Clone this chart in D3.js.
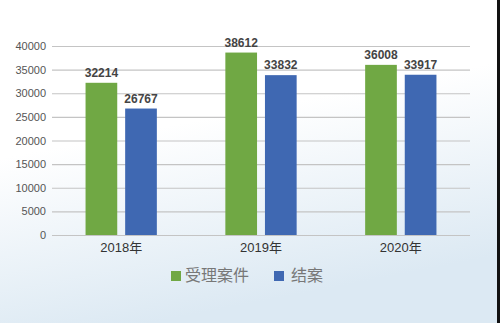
<!DOCTYPE html>
<html>
<head>
<meta charset="utf-8">
<script src="https://cdn.jsdelivr.net/npm/d3@7"></script>
<style>
  body { margin: 0; padding: 0; }
  svg { display: block; }
</style>
</head>
<body>
<div id="chart"></div>
<script>
// chart data
const years = ["2018年", "2019年", "2020年"];
const seriesNames = ["受理案件", "结案"];
const accepted = [32214, 38612, 36008];
const closed = [26767, 33832, 33917];
const yTicks = [0, 5000, 10000, 15000, 20000, 25000, 30000, 35000, 40000];

const colors = ["#70a844", "#3f68b2"];

const width = 500, height = 323;
const margin = { top: 46, right: 30, bottom: 88, left: 52 };

const svg = d3.select("#chart")
    .append("svg")
    .attr("width", width)
    .attr("height", height);

// background: white at top fading to pale blue at the bottom
const defs = svg.append("defs");
const grad = defs.append("linearGradient")
    .attr("id", "bg")
    .attr("x1", 0).attr("y1", 0).attr("x2", 0.3).attr("y2", 1);
grad.append("stop").attr("offset", "0%").attr("stop-color", "#ffffff");
grad.append("stop").attr("offset", "45%").attr("stop-color", "#ffffff");
grad.append("stop").attr("offset", "100%").attr("stop-color", "#dce9f3");

svg.append("rect")
    .attr("width", width).attr("height", height)
    .attr("fill", "url(#bg)");

// dark edge on the right
svg.append("rect")
    .attr("x", 497).attr("y", 0)
    .attr("width", 3).attr("height", height)
    .attr("fill", "#111");

const x0 = d3.scaleBand()
    .domain(years)
    .range([margin.left, width - margin.right])
    .paddingInner(0.49)
    .paddingOuter(0.24);

const x1 = d3.scaleBand()
    .domain(seriesNames)
    .range([0, x0.bandwidth()])
    .paddingInner(0.2);

const y = d3.scaleLinear()
    .domain([0, 40000])
    .range([height - margin.bottom, margin.top]);

// gridlines + y labels
const yAxis = d3.axisLeft(y)
    .tickValues(yTicks)
    .tickSize(-(width - margin.right - margin.left))
    .tickPadding(6)
    .tickFormat(d3.format("d"));

const gy = svg.append("g")
    .attr("transform", "translate(" + margin.left + ",0)")
    .call(yAxis);
gy.select(".domain").remove();
gy.selectAll(".tick line")
    .attr("stroke", "#c4c4c4")
    .attr("stroke-width", 1.2);
gy.selectAll(".tick text")
    .attr("fill", "#555")
    .style("font-family", "'Liberation Sans', Arial, sans-serif")
    .style("font-size", "11px");

// bars
const rows = years.map((yr, i) => ({
    year: yr,
    values: [
        { name: seriesNames[0], value: accepted[i], color: colors[0] },
        { name: seriesNames[1], value: closed[i], color: colors[1] }
    ]
}));

const groups = svg.selectAll(".grp")
    .data(rows)
    .enter()
    .append("g")
    .attr("class", "grp")
    .attr("transform", d => "translate(" + x0(d.year) + ",0)");

groups.selectAll("rect")
    .data(d => d.values)
    .enter()
    .append("rect")
    .attr("x", d => x1(d.name))
    .attr("y", d => y(d.value))
    .attr("width", x1.bandwidth())
    .attr("height", d => y(0) - y(d.value))
    .attr("fill", d => d.color);

groups.selectAll(".val")
    .data(d => d.values)
    .enter()
    .append("text")
    .attr("class", "val")
    .attr("x", d => x1(d.name) + x1.bandwidth() / 2)
    .attr("y", d => y(d.value) - 6)
    .attr("text-anchor", "middle")
    .attr("fill", "#444")
    .style("font-family", "'Liberation Sans', Arial, sans-serif")
    .style("font-weight", "bold")
    .style("font-size", "12px")
    .text(d => d.value);

// category labels
svg.selectAll(".cat")
    .data(years)
    .enter()
    .append("text")
    .attr("class", "cat")
    .attr("x", d => x0(d) + x0.bandwidth() / 2)
    .attr("y", y(0) + 17)
    .attr("text-anchor", "middle")
    .attr("fill", "#333")
    .style("font-family", "'Liberation Sans', 'Noto Sans CJK SC', sans-serif")
    .style("font-size", "13px")
    .text(d => d);

// legend
const legendX = [171, 274];
const legend = svg.selectAll(".leg")
    .data(seriesNames)
    .enter()
    .append("g")
    .attr("class", "leg")
    .attr("transform", (d, i) => "translate(" + legendX[i] + ",271)");

legend.append("rect")
    .attr("width", 10).attr("height", 10)
    .attr("fill", (d, i) => colors[i]);

legend.append("text")
    .attr("x", (d, i) => i === 0 ? 14 : 17)
    .attr("y", 10)
    .attr("fill", "#777")
    .style("font-family", "'Noto Sans CJK SC', sans-serif")
    .style("font-size", "16px")
    .text(d => d);
</script>
</body>
</html>
